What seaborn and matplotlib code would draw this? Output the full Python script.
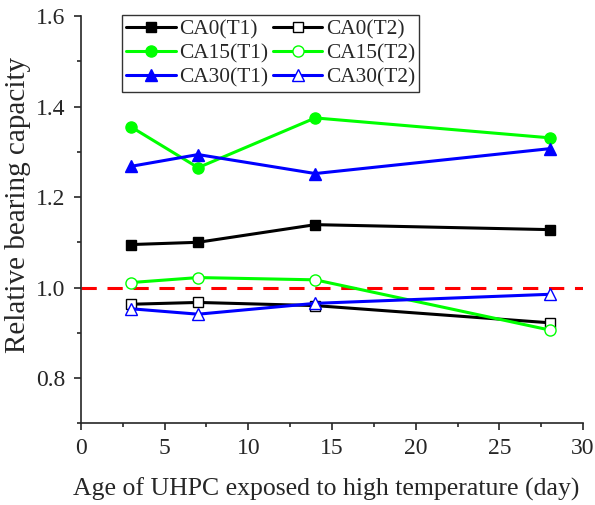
import numpy as np
import pandas as pd
import seaborn as sns
import matplotlib.pyplot as plt
from matplotlib.ticker import MultipleLocator

# data
days = [3, 7, 14, 28]
ca0_t1 = [1.095, 1.100, 1.139, 1.128]
ca15_t1 = [1.355, 1.265, 1.375, 1.331]
ca30_t1 = [1.268, 1.294, 1.252, 1.307]
ca0_t2 = [0.963, 0.967, 0.960, 0.922]
ca15_t2 = [1.011, 1.022, 1.017, 0.906]
ca30_t2 = [0.953, 0.941, 0.965, 0.985]

series = [
    ("CA0(T1)", ca0_t1, "black", "s", True),
    ("CA15(T1)", ca15_t1, "#00ff00", "o", True),
    ("CA30(T1)", ca30_t1, "#0000ff", "^", True),
    ("CA0(T2)", ca0_t2, "black", "s", False),
    ("CA15(T2)", ca15_t2, "#00ff00", "o", False),
    ("CA30(T2)", ca30_t2, "#0000ff", "^", False),
]

if __name__ == "__main__":
    sns.set_style("ticks")
    plt.rcParams['font.family'] = ['Liberation Serif', 'DejaVu Serif']

    fig = plt.figure(figsize=(5.95, 5.05), dpi=100)
    ax = fig.add_axes([0.136, 0.162, 0.844, 0.806])

    # reference line
    ax.axhline(1.0, color="red", lw=2.2, ls=(0, (5, 3.5)), zorder=1)

    for name, vals, color, marker, filled in series:
        df = pd.DataFrame({"day": days, "val": vals})
        sns.lineplot(data=df, x="day", y="val", ax=ax, color=color, lw=2.2,
                     marker=marker, markersize=8 if marker != "s" else 7,
                     markerfacecolor=color if filled else "white",
                     markeredgecolor=color, markeredgewidth=1.0,
                     label=name, zorder=3)

    ax.set_xlim(0, 30)
    ax.set_ylim(0.7, 1.6)
    ax.xaxis.set_major_locator(MultipleLocator(5))
    ax.xaxis.set_minor_locator(MultipleLocator(2.5))
    ax.yaxis.set_major_locator(MultipleLocator(0.2))
    ax.yaxis.set_minor_locator(MultipleLocator(0.1))
    ax.set_yticks([0.8, 1.0, 1.2, 1.4, 1.6])
    ax.yaxis.set_major_formatter(plt.FuncFormatter(lambda v, p: f"{v:.1f}"))
    ax.tick_params(which="major", direction="out", length=5, width=1.2, labelsize=17, pad=6)
    ax.tick_params(which="minor", direction="out", length=3, width=1.2)
    for s in ["left", "bottom"]:
        ax.spines[s].set_linewidth(1.2)
    sns.despine(ax=ax)

    ax.set_xlabel("Age of UHPC exposed to high temperature (day)", fontsize=18.5)
    ax.set_ylabel("Relative bearing capacity", fontsize=21)
    ax.xaxis.set_label_coords(0.488, -0.133)
    ax.yaxis.set_label_coords(-0.1, 0.536)

    leg = ax.legend(ncol=2, loc="upper left", bbox_to_anchor=(0.082, 1.003), fontsize=15.4,
                    frameon=True, fancybox=False, edgecolor="black", handlelength=2.3,
                    handletextpad=0.15, columnspacing=0.25, labelspacing=0.2,
                    borderpad=0.2, borderaxespad=0)
    leg.get_frame().set_linewidth(1.0)

    fig.savefig("out.png", dpi=100)
